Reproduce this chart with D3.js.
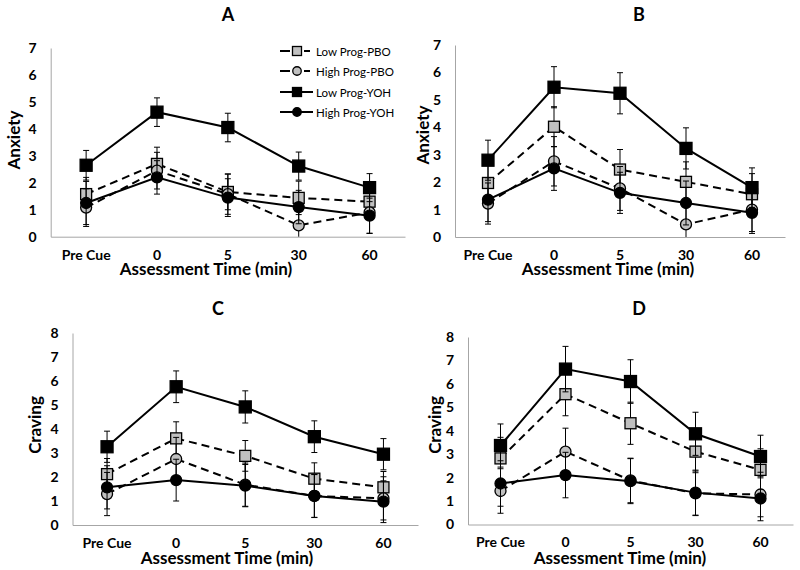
<!DOCTYPE html>
<html><head><meta charset="utf-8">
<script src="https://cdn.jsdelivr.net/npm/d3@7"></script>
<style>
body{margin:0;background:#fff;}
svg{display:block;}
text{font-family:Lato,"Open Sans",sans-serif;}
</style></head>
<body>
<svg id="chart" width="800" height="570"></svg>
<script>
// ---------------- data ----------------
const categories = ["Pre Cue", "0", "5", "30", "60"];
const seriesNames = ["Low Prog-PBO", "High Prog-PBO", "Low Prog-YOH", "High Prog-YOH"];
const panelTitles = ["A", "B", "C", "D"];
const yTitles = ["Anxiety", "Anxiety", "Craving", "Craving"];
const yMax = [7, 7, 8, 8];
const xTitle = "Assessment Time (min)";

// Panel A (Anxiety)
const aLowPBO  = [1.58, 2.70, 1.66, 1.44, 1.30];
const aHighPBO = [1.08, 2.45, 1.58, 0.42, 0.90];
const aLowYOH  = [2.65, 4.62, 4.05, 2.62, 1.82];
const aHighYOH = [1.25, 2.20, 1.45, 1.10, 0.78];
const aLowPBOErr  = [0.62, 0.62, 0.66, 0.62, 0.62];
const aHighPBOErr = [0.70, 0.68, 0.75, 0.60, 0.78];
const aLowYOHErr  = [0.55, 0.53, 0.53, 0.52, 0.52];
const aHighYOHErr = [0.80, 0.62, 0.70, 0.62, 0.65];

// Panel B (Anxiety)
const bLowPBO  = [1.97, 4.02, 2.46, 2.01, 1.56];
const bHighPBO = [1.22, 2.76, 1.77, 0.46, 1.00];
const bLowYOH  = [2.80, 5.46, 5.24, 3.23, 1.80];
const bHighYOH = [1.36, 2.50, 1.61, 1.24, 0.88];
const bLowPBOErr  = [0.73, 0.73, 0.73, 0.73, 0.75];
const bHighPBOErr = [0.75, 0.90, 0.80, 0.70, 0.80];
const bLowYOHErr  = [0.73, 0.75, 0.75, 0.75, 0.72];
const bHighYOHErr = [0.80, 0.80, 0.75, 0.80, 0.75];

// Panel C (Craving)
const cLowPBO  = [2.12, 3.61, 2.88, 1.93, 1.57];
const cHighPBO = [1.29, 2.75, 1.68, 1.21, 1.11];
const cLowYOH  = [3.26, 5.76, 4.92, 3.68, 2.95];
const cHighYOH = [1.57, 1.87, 1.64, 1.21, 0.97];
const cLowPBOErr  = [0.65, 0.69, 0.64, 0.66, 0.66];
const cHighPBOErr = [0.90, 0.90, 0.90, 0.90, 0.90];
const cLowYOHErr  = [0.65, 0.66, 0.67, 0.66, 0.65];
const cHighYOHErr = [0.90, 0.87, 0.88, 0.89, 0.87];

// Panel D (Craving)
const dLowPBO  = [2.82, 5.56, 4.32, 3.11, 2.33];
const dHighPBO = [1.43, 3.11, 1.88, 1.33, 1.28];
const dLowYOH  = [3.37, 6.63, 6.10, 3.87, 2.90];
const dHighYOH = [1.75, 2.11, 1.85, 1.36, 1.11];
const dLowPBOErr  = [0.90, 0.92, 0.90, 0.90, 0.90];
const dHighPBOErr = [0.95, 1.00, 0.95, 0.95, 0.95];
const dLowYOHErr  = [0.92, 0.97, 0.93, 0.92, 0.91];
const dHighYOHErr = [0.97, 0.97, 0.96, 0.96, 0.95];

const panelValues = [
  [aLowPBO, aHighPBO, aLowYOH, aHighYOH],
  [bLowPBO, bHighPBO, bLowYOH, bHighYOH],
  [cLowPBO, cHighPBO, cLowYOH, cHighYOH],
  [dLowPBO, dHighPBO, dLowYOH, dHighYOH]
];
const panelErrors = [
  [aLowPBOErr, aHighPBOErr, aLowYOHErr, aHighYOHErr],
  [bLowPBOErr, bHighPBOErr, bLowYOHErr, bHighYOHErr],
  [cLowPBOErr, cHighPBOErr, cLowYOHErr, cHighYOHErr],
  [dLowPBOErr, dHighPBOErr, dLowYOHErr, dHighYOHErr]
];

// ---------------- layout / style ----------------
const layout = [
  {x0: 50.7, x1: 405, y0: 236.7, y1: 48,  title:[228, 21], yt:[13, 140],  xt:[206, 275]},
  {x0: 455,  x1: 785, y0: 237,   y1: 45,  title:[639, 21], yt:[422, 135], xt:[608, 275]},
  {x0: 72.5, x1: 418, y0: 525,   y1: 333, title:[218, 315], yt:[34, 425], xt:[227, 564]},
  {x0: 468,  x1: 793, y0: 524.5, y1: 337, title:[639, 315], yt:[434, 425], xt:[620, 564]}
];
const styles = [
  {dash: "8,5", shape: "square", fill: "#c0c0c0", size: 11},
  {dash: "8,5", shape: "circle", fill: "#c0c0c0", size: 11},
  {dash: null,  shape: "square", fill: "#000000", size: 12},
  {dash: null,  shape: "circle", fill: "#000000", size: 11}
];

const svg = d3.select("#chart");

function drawMarker(g, shape, cx, cy, size, fill) {
  if (shape === "square") {
    g.append("rect").attr("x", cx - size/2).attr("y", cy - size/2)
      .attr("width", size).attr("height", size)
      .attr("fill", fill).attr("stroke", "#000").attr("stroke-width", 1.3);
  } else {
    g.append("circle").attr("cx", cx).attr("cy", cy).attr("r", size/2)
      .attr("fill", fill).attr("stroke", "#000").attr("stroke-width", 1.3);
  }
}

layout.forEach((L, pi) => {
  const g = svg.append("g");
  const x = d3.scaleBand().domain(categories).range([L.x0, L.x1]).padding(0);
  const y = d3.scaleLinear().domain([0, yMax[pi]]).range([L.y0, L.y1]);
  const cx = c => x(c) + x.bandwidth()/2;

  // y axis
  const ya = g.append("g").attr("transform", `translate(${L.x0},0)`)
    .call(d3.axisLeft(y).ticks(yMax[pi]).tickSize(0).tickPadding(14).tickFormat(d3.format("d")));
  ya.select(".domain").attr("stroke", "#a6a6a6").attr("stroke-width", 1);
  ya.selectAll("text").attr("font-size", 14).attr("font-weight", "bold").attr("fill", "#000")
    .style("font-family", "Lato, sans-serif");

  // x axis
  const xa = g.append("g").attr("transform", `translate(0,${L.y0})`)
    .call(d3.axisBottom(x).tickSize(0).tickPadding(13));
  xa.select(".domain").attr("stroke", "#a6a6a6").attr("stroke-width", 1);
  xa.selectAll("text").attr("font-size", 14).attr("font-weight", "bold").attr("fill", "#000")
    .style("font-family", "Lato, sans-serif");

  // titles
  g.append("text").attr("x", L.title[0]).attr("y", L.title[1]).attr("text-anchor", "middle")
    .attr("font-size", 18).attr("font-weight", "bold").text(panelTitles[pi]);
  g.append("text").attr("transform", `translate(${L.yt[0]},${L.yt[1]}) rotate(-90)`)
    .attr("text-anchor", "middle").attr("dominant-baseline", "central")
    .attr("font-size", 17).attr("font-weight", "bold").text(yTitles[pi]);
  g.append("text").attr("x", L.xt[0]).attr("y", L.xt[1]).attr("text-anchor", "middle")
    .attr("font-size", 17).attr("font-weight", "bold").text(xTitle);

  // series
  const line = d3.line().x((d, i) => cx(categories[i])).y(d => y(d));
  panelValues[pi].forEach((vals, si) => {
    const st = styles[si];
    const errs = panelErrors[pi][si];
    const sg = g.append("g");
    // error bars
    vals.forEach((v, i) => {
      const px = cx(categories[i]);
      const hi = v + errs[i], lo = Math.max(0, v - errs[i]);
      sg.append("line").attr("x1", px).attr("x2", px).attr("y1", y(hi)).attr("y2", y(lo))
        .attr("stroke", "#000").attr("stroke-width", 1);
      sg.append("line").attr("x1", px - 3).attr("x2", px + 3).attr("y1", y(hi)).attr("y2", y(hi))
        .attr("stroke", "#000").attr("stroke-width", 1);
      if (v - errs[i] > 0) {
        sg.append("line").attr("x1", px - 3).attr("x2", px + 3).attr("y1", y(lo)).attr("y2", y(lo))
          .attr("stroke", "#000").attr("stroke-width", 1);
      }
    });
    sg.append("path").datum(vals).attr("d", line).attr("fill", "none")
      .attr("stroke", "#000").attr("stroke-width", 2)
      .attr("stroke-dasharray", st.dash);
    vals.forEach((v, i) => drawMarker(sg, st.shape, cx(categories[i]), y(v), st.size, st.fill));
  });

  // legend in panel A only
  if (pi === 0) {
    const lg = g.append("g");
    const rowsY = [51, 71, 92, 112];
    seriesNames.forEach((name, si) => {
      const st = styles[si];
      const ry = rowsY[si];
      if (st.dash) {
        lg.append("line").attr("x1", 280).attr("x2", 290).attr("y1", ry).attr("y2", ry)
          .attr("stroke", "#000").attr("stroke-width", 2);
        lg.append("line").attr("x1", 304).attr("x2", 310).attr("y1", ry).attr("y2", ry)
          .attr("stroke", "#000").attr("stroke-width", 2);
      } else {
        lg.append("line").attr("x1", 280).attr("x2", 313).attr("y1", ry).attr("y2", ry)
          .attr("stroke", "#000").attr("stroke-width", 2);
      }
      drawMarker(lg, st.shape, 297, ry, st.shape === "square" ? 9 : 8.5, st.fill);
      lg.append("text").attr("x", 316).attr("y", ry).attr("dominant-baseline", "central")
        .attr("font-size", 11.5).attr("fill", "#000").text(name);
    });
  }
});
</script>
</body></html>
